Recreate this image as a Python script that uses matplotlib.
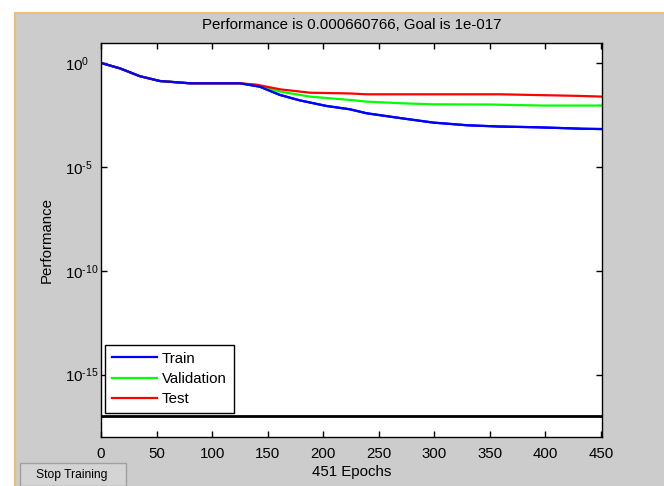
import numpy as np
import matplotlib
matplotlib.use('Agg')
import matplotlib.pyplot as plt
from matplotlib.patches import Rectangle
from matplotlib.lines import Line2D

plt.rcParams['font.family'] = ['Liberation Sans', 'DejaVu Sans']
plt.rcParams['mathtext.fontset'] = 'custom'
plt.rcParams['mathtext.rm'] = 'Liberation Sans'
plt.rcParams['mathtext.default'] = 'regular'
plt.rcParams['axes.unicode_minus'] = False

# data (epoch, performance)
train_ep = [0, 17, 35, 53, 80, 125, 143, 161, 179, 203, 224, 239, 270, 299, 330, 359, 389, 410, 434, 451]
train_perf = [1.0, 0.55, 0.23, 0.135, 0.105, 0.105, 0.072, 0.029, 0.0158, 0.0085, 0.0059,
              0.0038, 0.0022, 0.00135, 0.00100, 0.00087, 0.00081, 0.00075, 0.00068, 0.00066]
val_ep = [0, 17, 35, 53, 80, 125, 140, 161, 179, 188, 224, 239, 270, 299, 350, 398, 451]
val_perf = [1.0, 0.55, 0.23, 0.135, 0.105, 0.105, 0.085, 0.042, 0.029, 0.024, 0.0166,
            0.0138, 0.0115, 0.0102, 0.0100, 0.0089, 0.0089]
test_ep = [0, 17, 35, 53, 80, 125, 140, 161, 179, 188, 224, 239, 300, 359, 400, 430, 451]
test_perf = [1.0, 0.55, 0.23, 0.135, 0.105, 0.105, 0.09, 0.054, 0.042, 0.037, 0.034,
             0.031, 0.031, 0.031, 0.028, 0.026, 0.024]
goal = 1e-17
n_epochs = 451
best_perf = 0.000660766
ytick_vals = [1e0, 1e-5, 1e-10, 1e-15]
ytick_labels = [r'$10^{0}$', r'$10^{\text{-}5}$', r'$10^{\text{-}10}$', r'$10^{\text{-}15}$']

fs = 10.8

fig = plt.figure(figsize=(6.64, 4.86), dpi=100, facecolor='#cccccc')

# white strip on top/left with the window border
fig.patches.append(Rectangle((0, 1 - 12/486), 1, 12/486, transform=fig.transFigure,
                             facecolor='white', edgecolor='none', zorder=0))
fig.patches.append(Rectangle((0, 0), 14/664, 1, transform=fig.transFigure,
                             facecolor='white', edgecolor='none', zorder=0))
fig.add_artist(Line2D([14.5/664, 1], [1 - 13/486, 1 - 13/486], color='#e8c170', lw=1.5))
fig.add_artist(Line2D([14.5/664, 14.5/664], [0, 1 - 13/486], color='#e8c170', lw=1.5))

ax = fig.add_axes([101/664, 1 - 437/486, 501/664, 394/486])
ax.semilogy(train_ep, train_perf, color='#0000ff', lw=1.6, label='Train')
ax.semilogy(val_ep, val_perf, color='#00ff00', lw=1.6, label='Validation')
ax.semilogy(test_ep, test_perf, color='#ff0000', lw=1.6, label='Test')
ax.semilogy(train_ep, train_perf, color='#0000ff', lw=1.6)
ax.axhline(goal, color='black', lw=2)

ax.set_xlim(0, n_epochs)
ax.set_ylim(1e-18, 10**0.96)
ax.set_xticks(np.arange(0, 451, 50))
ax.set_yticks(ytick_vals)
ax.set_yticklabels(ytick_labels)
ax.minorticks_off()
ax.tick_params(direction='in', length=4, width=1, top=True, right=True,
               labelsize=fs, pad=7)
# left-align the "10" parts like MATLAB does
ax.tick_params(axis='y', pad=26)
for lab in ax.get_yticklabels():
    lab.set_horizontalalignment('left')
for s in ax.spines.values():
    s.set_linewidth(1)

ax.set_title('Performance is %g, Goal is 1e-017' % best_perf, fontsize=fs, pad=10)
ax.set_xlabel('%d Epochs' % n_epochs, fontsize=fs, labelpad=3)
ax.set_ylabel('Performance', fontsize=fs, labelpad=8)

leg = ax.legend(loc='lower left', bbox_to_anchor=(0.008, 0.061), borderaxespad=0,
                fancybox=False, framealpha=1, edgecolor='black', fontsize=fs,
                handlelength=3.0, handletextpad=0.35, borderpad=0.45, labelspacing=0.42)
leg.get_frame().set_linewidth(1)

# Stop Training button
fig.patches.append(Rectangle((20/664, 0), 106/664, 23/486, transform=fig.transFigure,
                             facecolor='#d4d4d4', edgecolor='#a0a0a0', lw=1, zorder=1))
fig.text(72/664, 11/486, 'Stop Training', fontsize=8.7, ha='center', va='center')

fig.savefig('out.png', dpi=100, facecolor=fig.get_facecolor())
